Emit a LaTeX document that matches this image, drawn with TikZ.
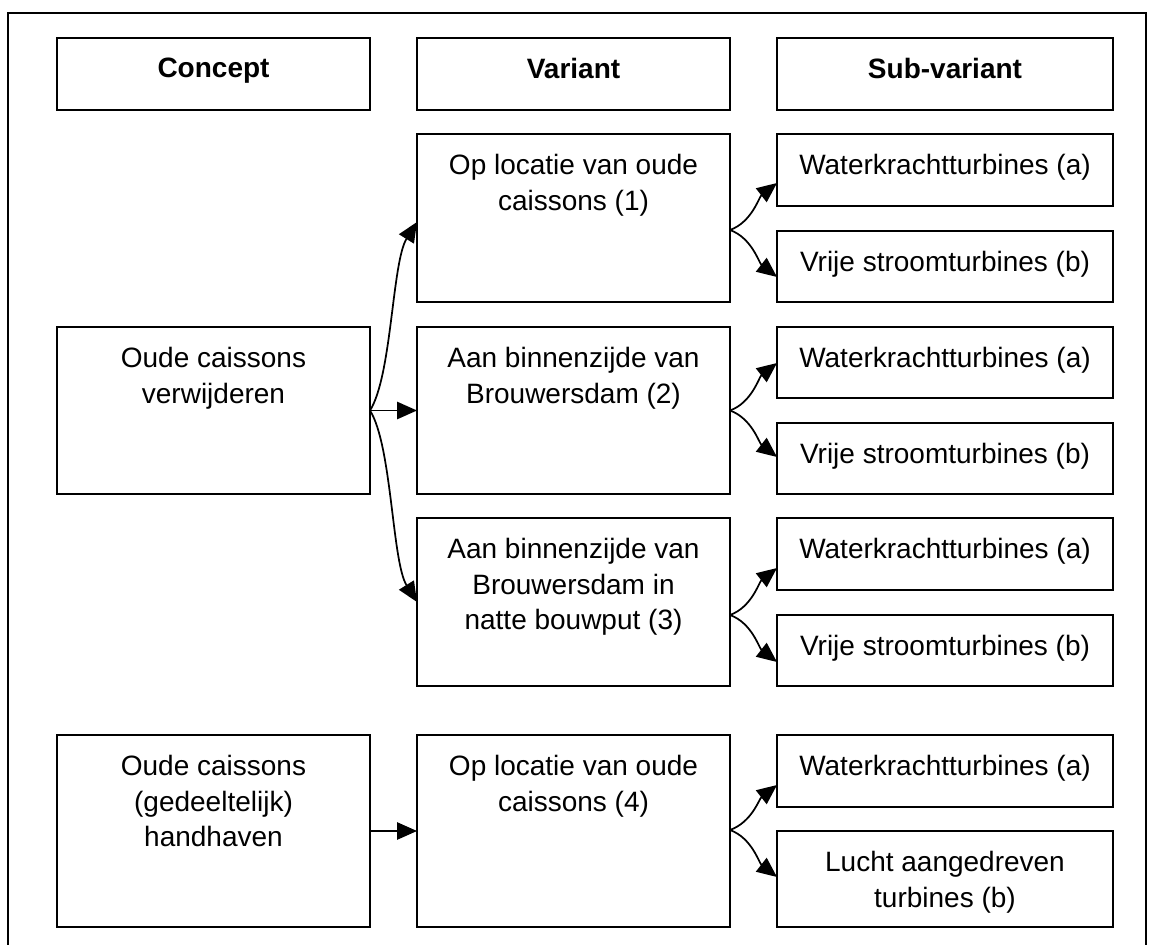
\documentclass[tikz,border=0pt]{standalone}
\usepackage{fontspec}
\setmainfont{Liberation Sans}
\usetikzlibrary{arrows.meta,calc}
\tikzset{
  box/.style={draw, line width=1.4pt, inner sep=0pt, outer sep=0pt},
  colC/.style={minimum width=234.75pt},
  colS/.style={minimum width=252pt},
  txt/.style={inner sep=0pt, outer sep=0pt, align=center, anchor=north, font=\fontsize{21}{26.8}\selectfont},
  hdr/.style={txt, font=\fontsize{21}{26.8}\selectfont\bfseries},
  conn/.style={line width=1.3pt, -{Triangle[length=15pt,width=13pt]}},
}
\begin{document}
\begin{tikzpicture}[x=0.75pt,y=-0.75pt]
\useasboundingbox (0,0) rectangle (1149,945);
% outer frame
\draw[line width=1.4pt] (8,945) -- (8,13) -- (1146,13) -- (1146,945);
% headers
\node[box,colC,minimum height=54pt] (hc) at (213.5,74) {};
\node[box,colC,minimum height=54pt] (hv) at (573.5,74) {};
\node[box,colS,minimum height=54pt] (hs) at (945,74) {};
\node[hdr] (hct) at ([yshift=-15pt]hc.north) {Concept};
\node[hdr] (hvt) at ([yshift=-15pt]hv.north) {Variant};
\node[hdr] (hst) at ([yshift=-15pt]hs.north) {Sub-variant};
% concepts
\node[box,colC,minimum height=125.25pt] (c1) at (213.5,410.5) {};
\node[box,colC,minimum height=144pt] (c2) at (213.5,831) {};
\node[txt] (c1t) at ([yshift=-15pt]c1.north) {Oude caissons\\verwijderen};
\node[txt] (c2t) at ([yshift=-15pt]c2.north) {Oude caissons\\(gedeeltelijk)\\handhaven};
% variants
\node[box,colC,minimum height=126pt] (v1) at (573.5,218) {};
\node[box,colC,minimum height=125.25pt] (v2) at (573.5,410.5) {};
\node[box,colC,minimum height=126pt] (v3) at (573.5,602) {};
\node[box,colC,minimum height=144pt] (v4) at (573.5,831) {};
\node[txt] (v1t) at ([yshift=-15pt]v1.north) {Op locatie van oude\\caissons (1)};
\node[txt] (v2t) at ([yshift=-15pt]v2.north) {Aan binnenzijde van\\Brouwersdam (2)};
\node[txt] (v3t) at ([yshift=-15pt]v3.north) {Aan binnenzijde van\\Brouwersdam in\\natte bouwput (3)};
\node[txt] (v4t) at ([yshift=-15pt]v4.north) {Op locatie van oude\\caissons (4)};
% sub-variants
\node[box,colS,minimum height=54pt] (s1a) at (945,170) {};
\node[box,colS,minimum height=53.25pt] (s1b) at (945,266.5) {};
\node[box,colS,minimum height=53.25pt] (s2a) at (945,362.5) {};
\node[box,colS,minimum height=53.25pt] (s2b) at (945,458.5) {};
\node[box,colS,minimum height=54pt] (s3a) at (945,554) {};
\node[box,colS,minimum height=53.25pt] (s3b) at (945,650.5) {};
\node[box,colS,minimum height=54pt] (s4a) at (945,771) {};
\node[box,colS,minimum height=72pt] (s4b) at (945,879) {};
\node[txt] (s1at) at ([yshift=-15pt]s1a.north) {Waterkrachtturbines (a)};
\node[txt] (s1bt) at ([yshift=-15pt]s1b.north) {Vrije stroomturbines (b)};
\node[txt] (s2at) at ([yshift=-15pt]s2a.north) {Waterkrachtturbines (a)};
\node[txt] (s2bt) at ([yshift=-15pt]s2b.north) {Vrije stroomturbines (b)};
\node[txt] (s3at) at ([yshift=-15pt]s3a.north) {Waterkrachtturbines (a)};
\node[txt] (s3bt) at ([yshift=-15pt]s3b.north) {Vrije stroomturbines (b)};
\node[txt] (s4at) at ([yshift=-15pt]s4a.north) {Waterkrachtturbines (a)};
\node[txt] (s4bt) at ([yshift=-15pt]s4b.north) {Lucht aangedreven\\turbines (b)};
% branch points and arrow ends
\coordinate (c1o) at (c1.east);
\coordinate (c2o) at (c2.east);
\coordinate (v1i) at ($(v1.west)+(0,4)$);
\coordinate (v1o) at ($(v1.east)+(0,12)$);
\coordinate (v2o) at (v2.east);
\coordinate (v3o) at ($(v3.east)+(0,13)$);
\coordinate (v4o) at ($(v4.east)+(0,-1)$);
\coordinate (s1ai) at ($(s1a.west)+(0,13)$);
\coordinate (s1bi) at ($(s1b.west)+(0,10.5)$);
\coordinate (s2ai) at ($(s2a.west)+(0,0.5)$);
\coordinate (s2bi) at ($(s2b.west)+(0,-1.5)$);
\coordinate (s3ai) at ($(s3a.west)+(0,14)$);
\coordinate (s3bi) at ($(s3b.west)+(0,11.5)$);
\coordinate (s4ai) at ($(s4a.west)+(0,14)$);
\coordinate (s4bi) at ($(s4b.west)+(0,-2)$);
% concept -> variant
\draw[conn] (c1o) .. controls +(22,-35) and +(-25,40) .. (v1i);
\draw[conn] (c1o) -- (v2.west);
\draw[conn] (c1o) .. controls +(22,35) and +(-25,-40) .. (v3.west);
\draw[conn] (c2o) -- (v4.west);
% variant -> sub-variant
\draw[conn] (v1o) .. controls +(22,-8) and +(-18,14) .. (s1ai);
\draw[conn] (v1o) .. controls +(22,8) and +(-18,-14) .. (s1bi);
\draw[conn] (v2o) .. controls +(22,-8) and +(-18,14) .. (s2ai);
\draw[conn] (v2o) .. controls +(22,8) and +(-18,-14) .. (s2bi);
\draw[conn] (v3o) .. controls +(22,-8) and +(-18,14) .. (s3ai);
\draw[conn] (v3o) .. controls +(22,8) and +(-18,-14) .. (s3bi);
\draw[conn] (v4o) .. controls +(22,-8) and +(-18,14) .. (s4ai);
\draw[conn] (v4o) .. controls +(22,8) and +(-18,-14) .. (s4bi);
\end{tikzpicture}
\end{document}
